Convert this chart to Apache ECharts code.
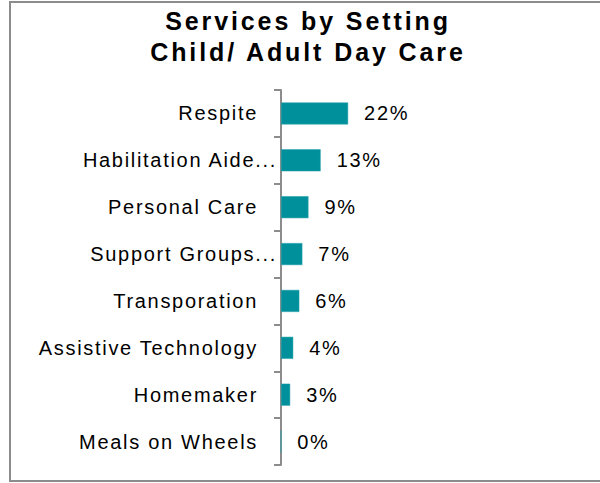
<!DOCTYPE html>
<html>
<head>
<meta charset="utf-8">
<script src="https://cdn.jsdelivr.net/npm/echarts@6/dist/echarts.min.js"></script>
<style>
  html, body { margin: 0; padding: 0; background: #fff; }
  #chart { width: 600px; height: 483px; }
  #chart svg text { letter-spacing: 1.7px; }
  #chart svg text[style*="bold"] { letter-spacing: 2.9px; }
</style>
</head>
<body>
<div id="chart"></div>
<script>
const titleLines = ['Services by Setting', 'Child/ Adult Day Care'];
const categories = ['Respite', 'Habilitation Aide...', 'Personal Care', 'Support Groups...', 'Transporation', 'Assistive Technology', 'Homemaker', 'Meals on Wheels'];
const values = [22, 13, 9, 7, 6, 4, 3, 0];
const truncated = ['Habilitation Aide...', 'Support Groups...'];

const chart = echarts.init(document.getElementById('chart'), null, { renderer: 'svg' });
const font = 'Liberation Sans, Arial, sans-serif';

chart.setOption({
  animation: false,
  backgroundColor: '#fff',
  title: {
    text: titleLines.join('\n'),
    left: 308,
    top: 0,
    textAlign: 'center',
    padding: [5, 0, 0, 0],
    textStyle: { fontFamily: font, fontWeight: 'bold', fontSize: 25, lineHeight: 31, color: '#000' }
  },
  graphic: [{
    type: 'rect', silent: true, z: -1,
    shape: { x: 10, y: 2, width: 600, height: 479 },
    style: { fill: 'none', stroke: '#8c8c8c', lineWidth: 2 }
  }],
  grid: { left: 281, right: 14, top: 90, bottom: 18, containLabel: false },
  xAxis: { type: 'value', min: 0, max: 100, show: false },
  yAxis: {
    type: 'category',
    inverse: true,
    data: categories.map(c => truncated.includes(c) ? { value: c, textStyle: { padding: [0, -19, 0, 0] } } : c),
    axisLine: { show: true, lineStyle: { color: '#8c8c8c', width: 2 } },
    axisTick: { show: true, inside: false, alignWithLabel: false, length: 7, lineStyle: { color: '#8c8c8c', width: 2 } },
    axisLabel: { margin: 23, color: '#000', fontFamily: font, fontSize: 20 }
  },
  series: [{
    type: 'bar',
    data: values,
    barWidth: 22,
    itemStyle: { color: '#00909b', borderColor: '#2aa3ad', borderWidth: 0.5 },
    label: {
      show: true, position: 'right', distance: 16,
      formatter: p => p.value + '%',
      color: '#000', fontFamily: font, fontSize: 20
    }
  }]
});
</script>
</body>
</html>
